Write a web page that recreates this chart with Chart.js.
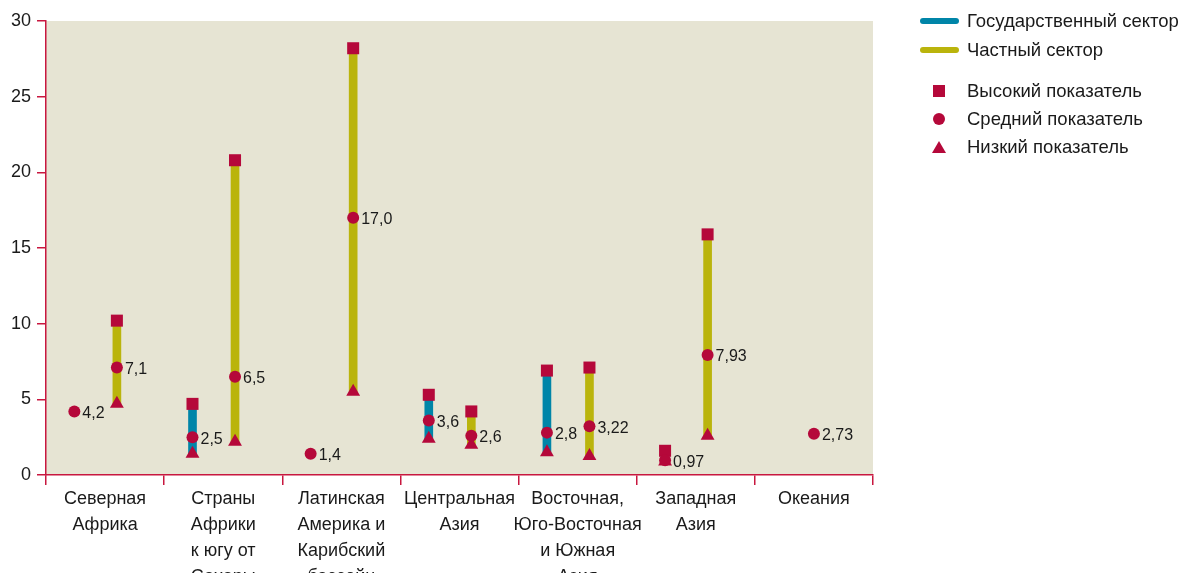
<!DOCTYPE html>
<html>
<head>
<meta charset="utf-8">
<script src="https://cdn.jsdelivr.net/npm/chart.js@4"></script>
<style>
    body { margin: 0; background: #fff; }
    #wrap { position: relative; width: 1182px; height: 573px; overflow: hidden; }
    #legend { position: absolute; left: 918px; top: 9px; font-family: "Liberation Sans", sans-serif; font-size: 18.5px; color: #1a1a1a; }
    .item { position: absolute; left: 0; white-space: nowrap; height: 24px; line-height: 24px; }
    .line { position: absolute; left: 2px; top: 12px; width: 39px; height: 6px; border-radius: 3px; }
    .mark { position: absolute; }
    .txt { position: absolute; left: 49px; top: 0; }
</style>
</head>
<body>
<div id="wrap">
    <canvas id="chart" width="1182" height="573"></canvas>
    <div id="legend">
        <div class="item" style="top:0px"><span class="line" style="background:#0085a8;top:9px"></span><span class="txt">Государственный сектор</span></div>
        <div class="item" style="top:29px"><span class="line" style="background:#bab40c;top:9px"></span><span class="txt">Частный сектор</span></div>
        <div class="item" style="top:70px"><span class="mark" style="left:15px;top:6px;width:12px;height:12px;background:#b5083a"></span><span class="txt">Высокий показатель</span></div>
        <div class="item" style="top:98px"><span class="mark" style="left:15px;top:6px;width:12px;height:12px;border-radius:6px;background:#b5083a"></span><span class="txt">Средний показатель</span></div>
        <div class="item" style="top:126px"><span class="mark" style="left:14px;top:6px;width:0;height:0;border-left:7px solid transparent;border-right:7px solid transparent;border-bottom:12px solid #b5083a"></span><span class="txt">Низкий показатель</span></div>
    </div>
</div>
<script>
const regions = [
    ['Северная', 'Африка'],
    ['Страны', 'Африки', 'к югу от', 'Сахары'],
    ['Латинская', 'Америка и', 'Карибский', 'бассейн'],
    ['Центральная', 'Азия'],
    ['Восточная,', 'Юго-Восточная', 'и Южная', 'Азия'],
    ['Западная', 'Азия'],
    ['Океания']
];

// государственный сектор
const publicHigh = [null, 4.7, null, 5.3, 6.9, 1.6, null];
const publicMean = [4.2, 2.5, 1.4, 3.6, 2.8, 0.97, null];
const publicLow = [null, 1.4, null, 2.4, 1.5, 0.9, null];

// частный сектор
const privateHigh = [10.2, 20.8, 28.2, 4.2, 7.1, 15.9, null];
const privateMean = [7.1, 6.5, 17.0, 2.6, 3.22, 7.93, null];
const privateLow = [4.7, 2.2, 5.5, 2.0, 1.25, 2.6, null];

// без разбивки по секторам
const totalMean = [null, null, null, null, null, null, 2.73];

const yTicks = [0, 5, 10, 15, 20, 25, 30];

const RED = '#b5083a';
const AXIS = '#c8173f';
const TEAL = '#0085a8';
const OLIVE = '#bab40c';
const PUB_OFF = -0.26;
const PRIV_OFF = 0.1;

function pts(arr, off) {
    return arr.map((v, i) => v === null ? null : { x: i + off, y: v }).filter(p => p);
}
function ranges(lo, hi, off) {
    return lo.map((v, i) => (v === null || hi[i] === null) ? null : { x: i + off, y: [v, hi[i]] }).filter(p => p);
}
function fmt(v) {
    return v.toLocaleString('ru-RU', { minimumFractionDigits: 1 });
}

const markerBase = { type: 'scatter', xAxisID: 'xd', backgroundColor: RED, borderWidth: 0, pointHoverRadius: 0, order: 0 };

const bgPlugin = {
    id: 'bg',
    beforeDraw(chart) {
        const a = chart.chartArea;
        const ctx = chart.ctx;
        ctx.save();
        ctx.fillStyle = '#e6e4d3';
        ctx.fillRect(a.left, a.top, a.right - a.left, a.bottom - a.top);
        ctx.restore();
    }
};

const labelPlugin = {
    id: 'meanLabels',
    afterDatasetsDraw(chart) {
        const ctx = chart.ctx;
        ctx.save();
        ctx.font = '16px "Liberation Sans", sans-serif';
        ctx.fillStyle = '#1a1a1a';
        ctx.textBaseline = 'middle';
        chart.data.datasets.forEach((ds, di) => {
            if (!ds.meanLabels) return;
            chart.getDatasetMeta(di).data.forEach((el, j) => {
                ctx.fillText(fmt(ds.data[j].y), el.x + 8, el.y + 2);
            });
        });
        ctx.restore();
    }
};

new Chart(document.getElementById('chart'), {
    type: 'bar',
    data: {
        datasets: [
            { type: 'bar', xAxisID: 'xd', data: ranges(publicLow, publicHigh, PUB_OFF), backgroundColor: TEAL, barThickness: 8, grouped: false, order: 5 },
            { type: 'bar', xAxisID: 'xd', data: ranges(privateLow, privateHigh, PRIV_OFF), backgroundColor: OLIVE, barThickness: 8, grouped: false, order: 5 },
            { ...markerBase, data: pts(publicMean, PUB_OFF), pointStyle: 'circle', pointRadius: 6, meanLabels: true },
            { ...markerBase, data: pts(privateMean, PRIV_OFF), pointStyle: 'circle', pointRadius: 6, meanLabels: true },
            { ...markerBase, data: pts(totalMean, 0), pointStyle: 'circle', pointRadius: 6, meanLabels: true },
            { ...markerBase, data: pts(publicHigh, PUB_OFF).concat(pts(privateHigh, PRIV_OFF)), pointStyle: 'rect', pointRadius: 8.5 },
            { ...markerBase, data: pts(publicLow, PUB_OFF).concat(pts(privateLow, PRIV_OFF)), pointStyle: 'triangle', pointRadius: 8 }
        ]
    },
    options: {
        responsive: false,
        animation: false,
        layout: { padding: { top: 21, right: 309, left: 0, bottom: 0 } },
        plugins: { legend: { display: false }, tooltip: { enabled: false } },
        scales: {
            x: {
                type: 'category',
                labels: regions,
                offset: true,
                border: { color: AXIS, width: 1.5 },
                grid: { offset: true, drawOnChartArea: false, color: AXIS, tickLength: 10, lineWidth: 1.5 },
                ticks: { color: '#1a1a1a', font: { family: 'Liberation Sans', size: 18, lineHeight: 1.45 }, padding: 1, maxRotation: 0, autoSkip: false },
                afterFit(s) { s.height = 98; }
            },
            xd: { type: 'linear', min: -0.5, max: 6.5, offset: false, display: false },
            y: {
                min: 0,
                max: 30,
                afterBuildTicks(s) { s.ticks = yTicks.map(v => ({ value: v })); },
                border: { color: AXIS, width: 1.5 },
                grid: { drawOnChartArea: false, color: AXIS, tickLength: 9, lineWidth: 1.5 },
                ticks: { color: '#1a1a1a', font: { family: 'Liberation Sans', size: 18 }, padding: 6 },
                afterFit(s) { s.width = 46; }
            }
        }
    },
    plugins: [bgPlugin, labelPlugin]
});
</script>
</body>
</html>
